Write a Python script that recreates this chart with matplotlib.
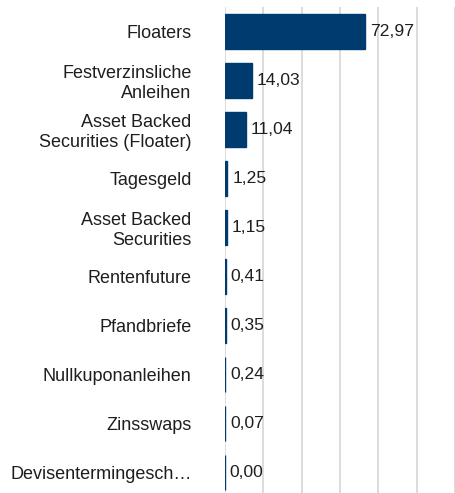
import matplotlib.pyplot as plt

plt.rcParams['font.family'] = ['Liberation Sans', 'DejaVu Sans']

categories = ["Floaters", "Festverzinsliche\nAnleihen", "Asset Backed\nSecurities (Floater)",
              "Tagesgeld", "Asset Backed\nSecurities", "Rentenfuture", "Pfandbriefe",
              "Nullkuponanleihen", "Zinsswaps", "Devisentermingesch\u2026"]
values = [72.97, 14.03, 11.04, 1.25, 1.15, 0.41, 0.35, 0.24, 0.07, 0.00]
ticks = [0, 20, 40, 60, 80, 100, 120]

fig = plt.figure(figsize=(4.56, 4.93), dpi=100)
ax = fig.add_axes([225 / 456, 0, 231 / 456, 486 / 493])

pos = list(range(len(categories)))
ax.barh(pos, values, height=0.71, color='#003b6f', edgecolor='#003b6f',
        linewidth=1.0, zorder=3)

for y, v in zip(pos, values):
    ax.annotate(f"{v:.2f}".replace('.', ','), (v, y), xytext=(3.5, 0),
                textcoords='offset points', va='center', ha='left',
                fontsize=12.6, color='#1e1e1e', zorder=4)

ax.set_xlim(0, 120.5)
ax.set_ylim(9.42, -0.5)
ax.set_xticks(ticks)
ax.xaxis.set_tick_params(length=0, labelbottom=False)
ax.grid(axis='x', color='#d9d9d9', linewidth=1.3, zorder=0)
ax.set_yticks(pos)
ax.set_yticklabels(categories, fontsize=13, color='#1e1e1e', linespacing=1.22)
ax.tick_params(axis='y', length=0, pad=24)
for s in ax.spines.values():
    s.set_visible(False)

plt.savefig("out.png", dpi=100)
